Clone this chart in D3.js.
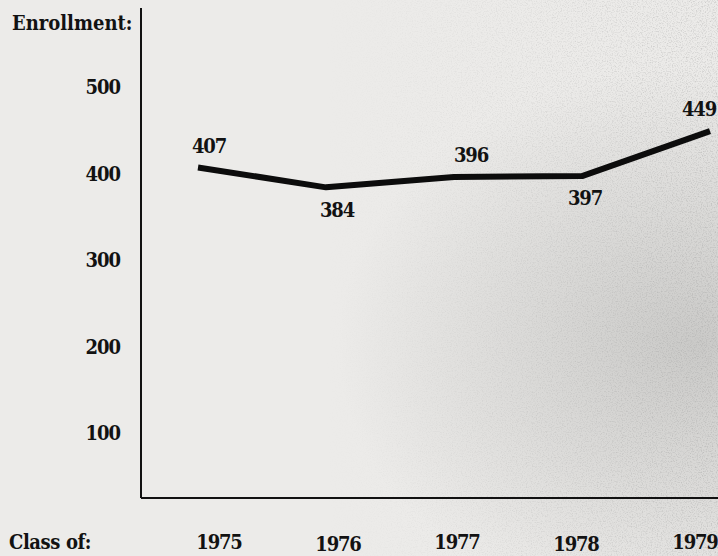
<!DOCTYPE html>
<html><head><meta charset="utf-8">
<script src="https://cdn.jsdelivr.net/npm/d3@7"></script>
<style>
html,body{margin:0;padding:0;background:#ececea;}
svg{display:block;}
text{font-family:"DejaVu Serif Condensed","DejaVu Serif",serif;font-stretch:condensed;font-weight:bold;fill:#121212;}
</style></head><body>
<script>
const years = [1975, 1976, 1977, 1978, 1979];
const enrollment = [407, 384, 396, 397, 449];
const yTicks = [100, 200, 300, 400, 500];
const labelBelow = [false, true, false, true, false];

const W = 718, H = 556;
const svg = d3.select("body").append("svg").attr("width", W).attr("height", H);

// paper background with scan-like texture
const defs = svg.append("defs");
const g1 = defs.append("radialGradient").attr("id","shade").attr("cx","0.97").attr("cy","0.62").attr("r","0.5");
g1.append("stop").attr("offset","0").attr("stop-color","#b4b4b2").attr("stop-opacity",0.6);
g1.append("stop").attr("offset","1").attr("stop-color","#b4b4b2").attr("stop-opacity",0);
const lg = defs.append("linearGradient").attr("id","fade").attr("x1","0").attr("x2","1");
lg.append("stop").attr("offset","0.45").attr("stop-color","#fff").attr("stop-opacity",0);
lg.append("stop").attr("offset","1").attr("stop-color","#fff").attr("stop-opacity",1);
defs.append("mask").attr("id","m").append("rect").attr("width",W).attr("height",H).attr("fill","url(#fade)");
const f = defs.append("filter").attr("id","noise");
f.append("feTurbulence").attr("type","fractalNoise").attr("baseFrequency","0.8").attr("numOctaves",2).attr("seed",3);
f.append("feColorMatrix").attr("values","0 0 0 0 0.3  0 0 0 0 0.3  0 0 0 0 0.3  0 0 0 -2.4 1.3");
svg.append("rect").attr("width",W).attr("height",H).attr("fill","#ecebe9");
svg.append("rect").attr("width",W).attr("height",H).attr("fill","url(#shade)");
svg.append("rect").attr("width",W).attr("height",H).attr("filter","url(#noise)").attr("mask","url(#m)").attr("opacity",0.4);

const y = d3.scaleLinear().domain([100, 500]).range([433, 87]);
const xLine = d3.scalePoint().domain(years).range([198, 710]);
const xLabel = d3.scalePoint().domain(years).range([219, 695]);

const axisX = 141, baseY = 498;

// axes lines
svg.append("line").attr("x1",axisX).attr("x2",axisX).attr("y1",8).attr("y2",baseY)
  .attr("stroke","#111").attr("stroke-width",2);
svg.append("line").attr("x1",axisX).attr("x2",W).attr("y1",baseY).attr("y2",baseY)
  .attr("stroke","#111").attr("stroke-width",2.2);

const FS = 20;
// y tick labels
svg.selectAll("text.yt").data(yTicks).join("text").attr("class","yt")
  .attr("x",120).attr("y",d=>y(d)).attr("dy","0.36em").attr("text-anchor","end")
  .attr("font-size",FS).attr("letter-spacing","-1.0")
  .text(d=>d);

svg.append("text").attr("x",12).attr("y",30).attr("font-size",FS).attr("letter-spacing","0")
  .text("Enrollment:");
svg.append("text").attr("x",9).attr("y",549).attr("font-size",FS).attr("letter-spacing","-0.4")
  .text("Class of:");

// x labels
svg.selectAll("text.xt").data(years).join("text").attr("class","xt")
  .attr("x",d=>xLabel(d)).attr("y",(d,i)=>549 + (i%2===1?2:0)).attr("text-anchor","middle")
  .attr("font-size",FS).attr("letter-spacing","-1.2")
  .text(d=>d);

// line
const pts = years.map((yr,i)=>({yr, v:enrollment[i]}));
svg.append("path").datum(pts)
  .attr("d", d3.line().x(d=>xLine(d.yr)).y(d=>y(d.v)))
  .attr("fill","none").attr("stroke","#0c0c0c").attr("stroke-width",6).attr("stroke-linejoin","round");

// value labels
svg.selectAll("text.vl").data(pts).join("text").attr("class","vl")
  .attr("x",(d,i)=>xLine(d.yr)+ [11,11,17,3,-11][i])
  .attr("y",(d,i)=>y(d.v) + (labelBelow[i]? 22 : -22))
  .attr("dy","0.36em").attr("text-anchor","middle")
  .attr("font-size",FS).attr("letter-spacing","-1.2")
  .text(d=>d.v);
</script>
</body></html>
